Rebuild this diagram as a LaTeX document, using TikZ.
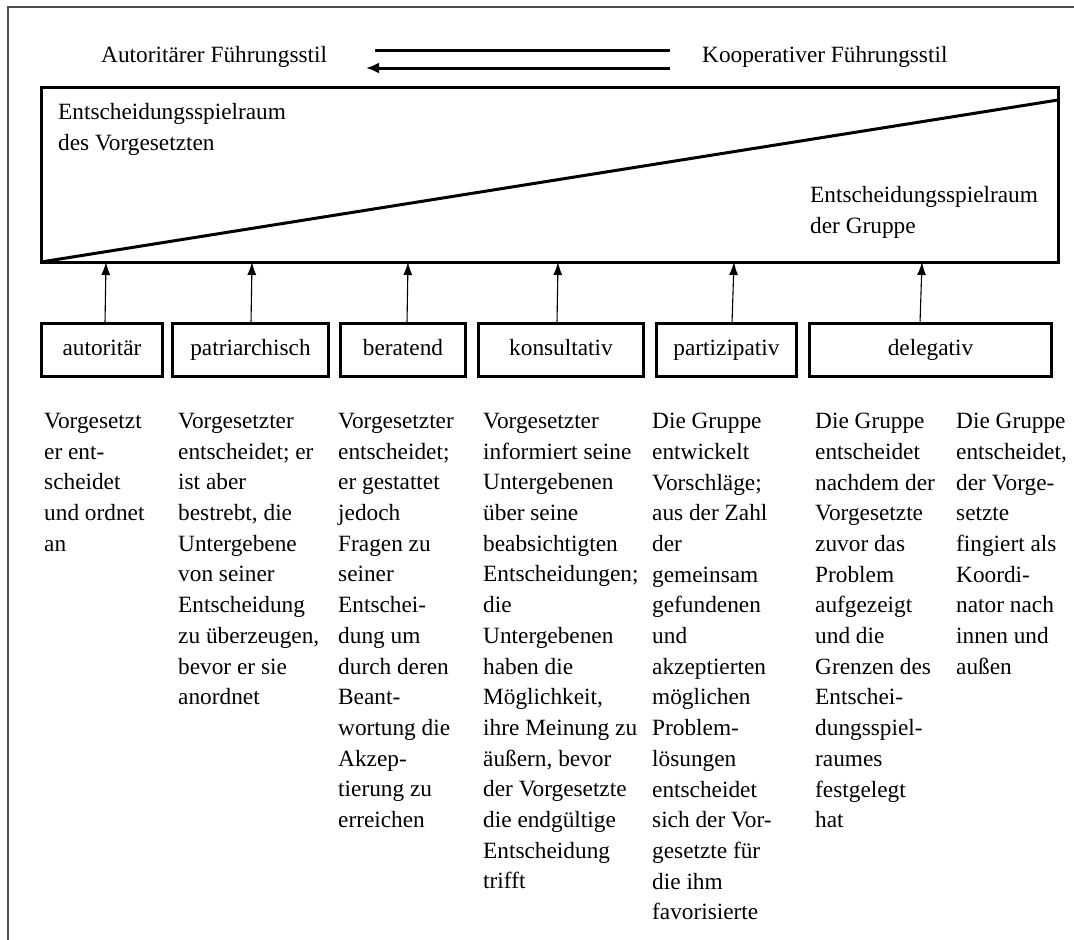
\documentclass[tikz,border=0pt]{standalone}
\usepackage{fontspec}
\setmainfont{Liberation Serif}
\usetikzlibrary{arrows.meta}
\begin{document}
\begin{tikzpicture}[x=1pt,y=-1pt,
  txt/.style={font=\fontsize{23.3}{30.7}\selectfont, inner sep=0pt},
  col/.style={txt, align=left, anchor=north west},
  stilbox/.style={draw, line width=2.8pt, outer sep=0pt, inner sep=0pt,
    minimum height=53pt, text height=16pt, text depth=5pt,
    font=\fontsize{23.3}{28}\selectfont},
  up/.style={-{Latex[length=13pt,width=9pt]}, line width=1.1pt},
  thick3/.style={line width=3pt}
]
\useasboundingbox (0,0) rectangle (1074,940);
% frame
\coordinate (fb) at (8,940);
\coordinate (fc) at (8,7);
\coordinate (fr) at (1074,7);
\draw[black!70, line width=1.5pt] (fb) -- (fc) -- (fr);

% titles
\node[txt, anchor=base west] (auto) at (101,62) {Autoritärer Führungsstil};
\node[txt, anchor=base west] (koop) at (702,62) {Kooperativer Führungsstil};
\coordinate (l1a) at (375,50);
\coordinate (l1b) at (670,50);
\coordinate (l2a) at (670,68);
\coordinate (l2b) at (366,68);
\draw[thick3] (l1a) -- (l1b);
\draw[thick3, -{Latex[length=13pt,width=11pt]}] (l2a) -- (l2b);

% big box
\node[draw, thick3, outer sep=0pt, inner sep=0pt, minimum width=1017pt,
  minimum height=175pt] (big) at (549.5,174.5) {};
\coordinate (dtop) at (1058,100);
\draw[thick3] (big.south west) -- (dtop);
\node[col] (vorg) at (58,103) {Entscheidungsspielraum\\des Vorgesetzten};
\node[col] (grup) at (810,186) {Entscheidungsspielraum\\der Gruppe};

% style boxes
\node[stilbox, minimum width=121pt] (b1) at (102,350) {autoritär};
\node[stilbox, minimum width=156pt] (b2) at (250.5,350) {patriarchisch};
\node[stilbox, minimum width=125pt] (b3) at (403,350) {beratend};
\node[stilbox, minimum width=165pt] (b4) at (561,350) {konsultativ};
\node[stilbox, minimum width=140pt] (b5) at (726.5,350) {partizipativ};
\node[stilbox, minimum width=242pt] (b6) at (930.5,350) {delegativ};

% arrows
\draw[up] (b1.north -| 105,0) -- (big.south -| 106,0);
\draw[up] (b2.north -| 251,0) -- (big.south -| 252,0);
\draw[up] (b3.north -| 407,0) -- (big.south -| 408,0);
\draw[up] (b4.north -| 557,0) -- (big.south -| 558,0);
\draw[up] (b5.north -| 732,0) -- (big.south -| 734,0);
\draw[up] (b6.north -| 920,0) -- (big.south -| 922,0);

% descriptions
\node[col] (t1) at (44,413) {Vorgesetzt\\er ent-\\scheidet\\und ordnet\\an};
\node[col] (t2) at (178,413) {Vorgesetzter\\entscheidet; er\\ist aber\\bestrebt, die\\Untergebene\\von seiner\\Entscheidung\\zu überzeugen,\\bevor er sie\\anordnet};
\node[col] (t3) at (338,413) {Vorgesetzter\\entscheidet;\\er gestattet\\jedoch\\Fragen zu\\seiner\\Entschei-\\dung um\\durch deren\\Beant-\\wortung die\\Akzep-\\tierung zu\\erreichen};
\node[col] (t4) at (483,413) {Vorgesetzter\\informiert seine\\Untergebenen\\über seine\\beabsichtigten\\Entscheidungen;\\die\\Untergebenen\\haben die\\Möglichkeit,\\ihre Meinung zu\\äußern, bevor\\der Vorgesetzte\\die endgültige\\Entscheidung\\trifft};
\node[col] (t5) at (652,413) {Die Gruppe\\entwickelt\\Vorschläge;\\aus der Zahl\\der\\gemeinsam\\gefundenen\\und\\akzeptierten\\möglichen\\Problem-\\lösungen\\entscheidet\\sich der Vor-\\gesetzte für\\die ihm\\favorisierte};
\node[col] (t6) at (815,413) {Die Gruppe\\entscheidet\\nachdem der\\Vorgesetzte\\zuvor das\\Problem\\aufgezeigt\\und die\\Grenzen des\\Entschei-\\dungsspiel-\\raumes\\festgelegt\\hat};
\node[col] (t7) at (956,413) {Die Gruppe\\entscheidet,\\der Vorge-\\setzte\\fingiert als\\Koordi-\\nator nach\\innen und\\außen};
\end{tikzpicture}
\end{document}
